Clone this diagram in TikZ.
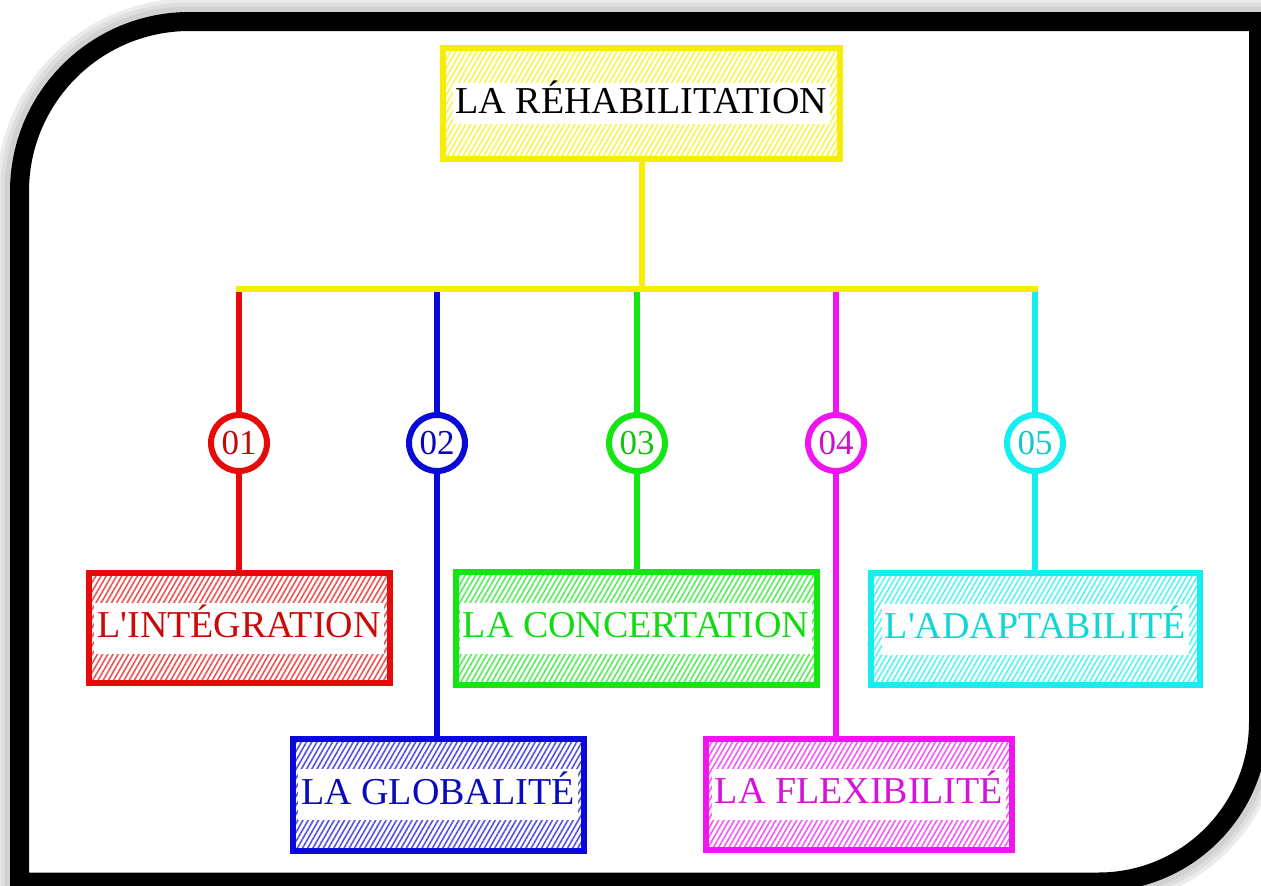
\documentclass[tikz,border=0pt]{standalone}
\usepackage{fontspec}
\setmainfont{Liberation Serif}
\usetikzlibrary{positioning,patterns.meta}

\definecolor{rhyellow}{HTML}{F6EE00}
\definecolor{rhred}{HTML}{E60A0A}
\definecolor{rhblue}{HTML}{0A0AD8}
\definecolor{rhgreen}{HTML}{14E614}
\definecolor{rhmagenta}{HTML}{F014F0}
\definecolor{rhcyan}{HTML}{14EEEE}

\newcommand\rhframe{(19.5,882) -- (19.5,191.5) .. controls (19.5,97.6) and (95.6,21.5) .. (189.5,21.5) -- (1258.5,21.5) -- (1258.5,722) .. controls (1258.5,810.4) and (1186.9,882) .. (1098.5,882) -- cycle}

\begin{document}
\begin{tikzpicture}[x=1pt,y=-1pt,line width=6pt]
\tikzset{box/.style={rectangle,draw=#1,pattern={Lines[angle=60,distance=4.5pt,line width=1.6pt]},pattern color=#1!70,inner sep=0pt}}
\tikzset{txt/.style={fill=white,inner xsep=3pt,inner ysep=6pt,text height=29pt,text depth=10pt,text=#1,font=\fontsize{38}{40}\selectfont}}
\tikzset{num/.style={circle,draw=#1,fill=white,minimum size=56pt,inner sep=0pt,text=#1!85!black,font=\fontsize{35}{36}\selectfont}}

\useasboundingbox (0,0) rectangle (1261,886);
\fill[white] (0,0) rectangle (1261,886);

% shadow and frame
\foreach \w/\g in {46/8,38/13,30/18}{%
\draw[line width=\w pt,black!\g] \rhframe;}
\fill[white] \rhframe;
\draw[line width=19pt,black] \rhframe;

\node [box=rhyellow, minimum width=397pt, minimum height=111pt] (root) at (641.5,103.5) {};
\node [txt=black, inner ysep=1pt] (troot) at (root.center) {LA RÉHABILITATION};

\node [box=rhred, minimum width=301pt, minimum height=110pt] (b1) at (239,628) {};
\node [box=rhblue, minimum width=291pt, minimum height=112pt] (b2) at (438,794.5) {};
\node [box=rhgreen, minimum width=361pt, minimum height=113pt] (b3) at (636,628) {};
\node [box=rhmagenta, minimum width=306pt, minimum height=111pt] (b4) at (859,794) {};
\node [box=rhcyan, minimum width=329pt, minimum height=112pt] (b5) at (1035.5,629) {};

\node [txt=rhred!88!black] (t1) at (b1.center) {L\textquotesingle INTÉGRATION};
\node [txt=rhblue!88!black] (t2) at (b2.center) {LA GLOBALITÉ};
\node [txt=rhgreen!95!black] (t3) at (b3.center) {LA CONCERTATION};
\node [txt=rhmagenta!90!black] (t4) at (b4.center) {LA FLEXIBILITÉ};
\node [txt=rhcyan!90!black] (t5) at (b5.center) {L\textquotesingle ADAPTABILITÉ};

\coordinate (busl) at (236,288.5);
\coordinate (busr) at (1038,288.5);

\foreach \i/\x/\c in {1/239/rhred,2/437/rhblue,3/637/rhgreen,4/836/rhmagenta,5/1035/rhcyan}{%
\node [num=\c] (n\i) at (\x,443) {0\i};
\draw[\c] (n\i |- busl) -- (n\i.north);
\draw[\c] (n\i.south) -- (n\i.south |- b\i.north);}

\draw[rhyellow] (root.south) -- (root.south |- busl);
\draw[rhyellow] (busl) -- (busr);
\end{tikzpicture}
\end{document}
